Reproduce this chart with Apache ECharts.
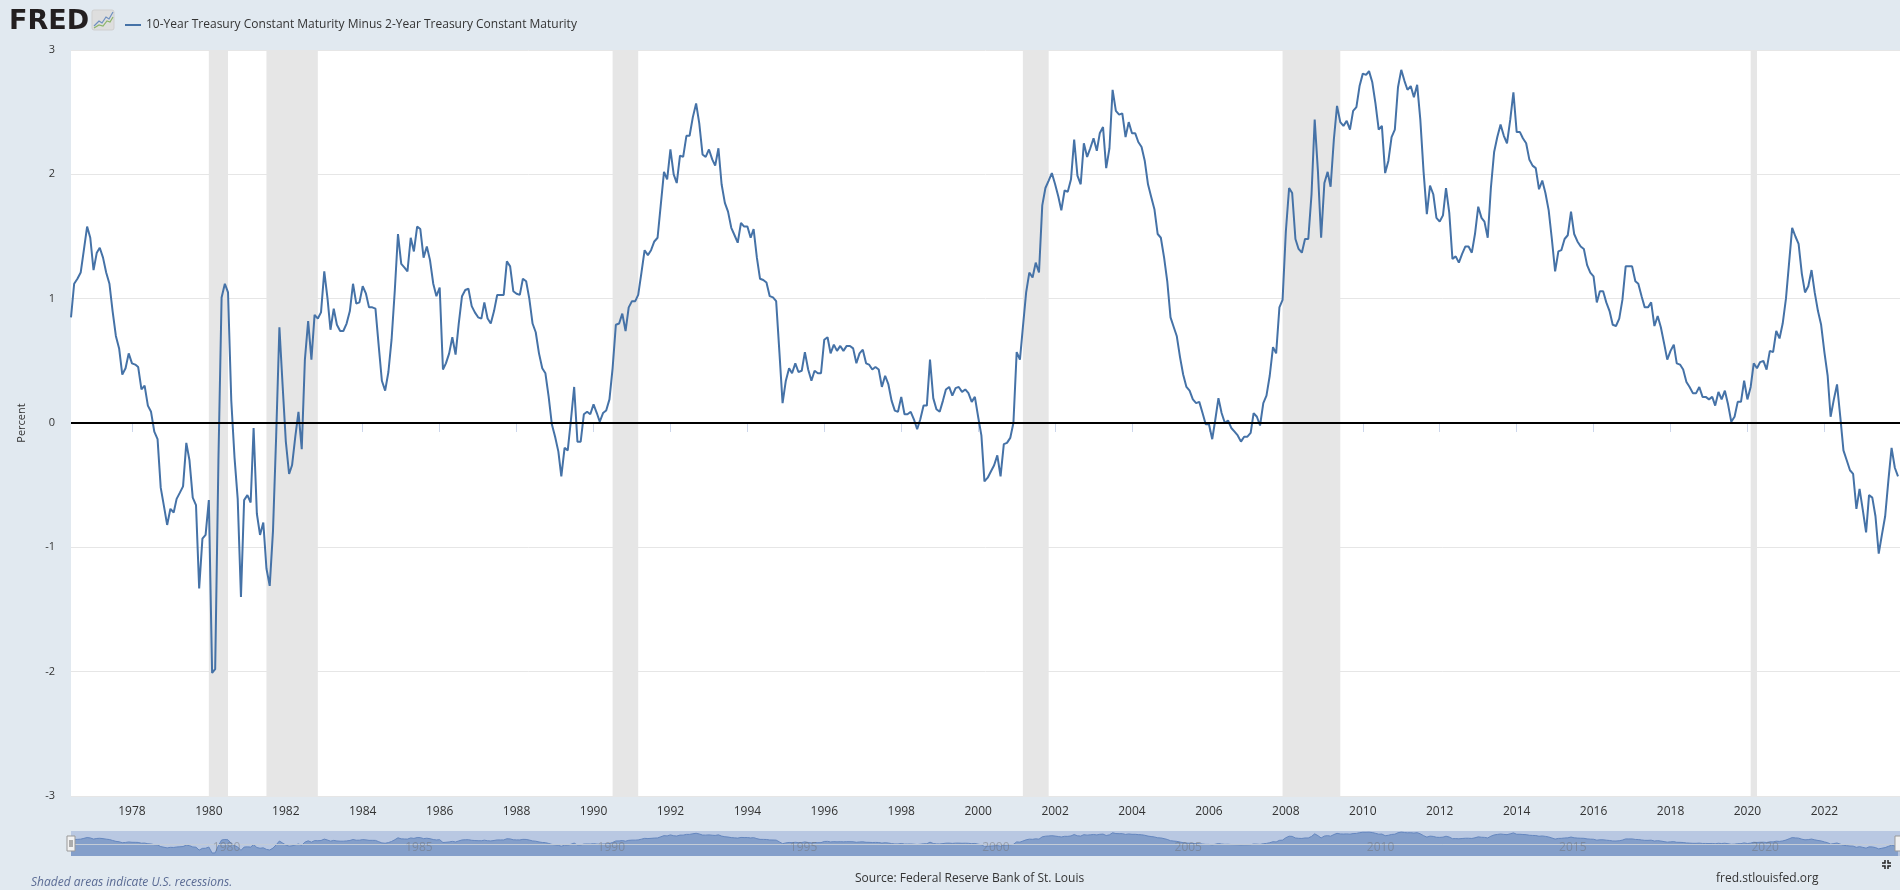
<!DOCTYPE html>
<html style="height: 100%" lang="en">
<head>
    <meta charset="UTF-8">
    <title>10-Year Treasury Constant Maturity Minus 2-Year Treasury Constant Maturity</title>
</head>
<body style="height: 100%; margin: 0; background: #e1e9f0">
<div id="main1" style="width: 1900px; height: 890px"></div>

<script src="https://cdn.jsdelivr.net/npm/echarts@6/dist/echarts.min.js"></script>

<script type="text/javascript">

    // monthly values, first point = June 1976
    var startYear = 1976, startMonth = 6;

    var spread1970s = [
        0.85, 1.12, 1.16, 1.21, 1.39, 1.58, 1.49,
        1.23, 1.37, 1.41, 1.33, 1.21, 1.12, 0.90, 0.70, 0.60, 0.39, 0.44, 0.56,
        0.48, 0.47, 0.45, 0.27, 0.30, 0.14, 0.09, -0.07, -0.13, -0.52, -0.67, -0.82,
        -0.69, -0.72, -0.61, -0.56, -0.51, -0.16, -0.30, -0.60, -0.66, -1.33, -0.93, -0.90
    ];
    var spread1980s = [
        -0.62, -2.01, -1.98, -0.30, 1.01, 1.12, 1.05, 0.18, -0.28, -0.61, -1.40, -0.62,
        -0.58, -0.64, -0.04, -0.73, -0.90, -0.80, -1.17, -1.31, -0.87, -0.11, 0.77, 0.31,
        -0.15, -0.41, -0.34, -0.11, 0.09, -0.21, 0.51, 0.82, 0.51, 0.87, 0.84, 0.89,
        1.22, 1.00, 0.75, 0.92, 0.79, 0.74, 0.74, 0.80, 0.90, 1.12, 0.96, 0.97,
        1.10, 1.04, 0.93, 0.93, 0.92, 0.62, 0.34, 0.26, 0.41, 0.67, 1.07, 1.52,
        1.28, 1.25, 1.22, 1.49, 1.38, 1.58, 1.56, 1.33, 1.42, 1.31, 1.12, 1.02,
        1.09, 0.43, 0.48, 0.56, 0.69, 0.55, 0.80, 1.02, 1.07, 1.08, 0.94, 0.89,
        0.85, 0.84, 0.97, 0.84, 0.80, 0.90, 1.03, 1.03, 1.03, 1.30, 1.26, 1.06,
        1.04, 1.03, 1.16, 1.14, 1.00, 0.80, 0.73, 0.56, 0.44, 0.40, 0.21, -0.01,
        -0.11, -0.23, -0.43, -0.20, -0.22, 0.03, 0.29, -0.15, -0.15, 0.07, 0.09, 0.07
    ];
    var spread1990s = [
        0.15, 0.08, 0.01, 0.08, 0.10, 0.19, 0.44, 0.79, 0.80, 0.88, 0.74, 0.93,
        0.98, 0.98, 1.03, 1.21, 1.39, 1.35, 1.39, 1.46, 1.49, 1.75, 2.02, 1.96,
        2.20, 2.00, 1.93, 2.15, 2.14, 2.31, 2.31, 2.46, 2.57, 2.41, 2.16, 2.14,
        2.20, 2.12, 2.07, 2.21, 1.92, 1.77, 1.70, 1.57, 1.51, 1.45, 1.61, 1.58,
        1.58, 1.49, 1.56, 1.33, 1.16, 1.15, 1.13, 1.02, 1.01, 0.98, 0.57, 0.16,
        0.34, 0.44, 0.40, 0.48, 0.41, 0.42, 0.57, 0.43, 0.34, 0.42, 0.40, 0.40,
        0.67, 0.69, 0.56, 0.63, 0.58, 0.62, 0.58, 0.62, 0.62, 0.60, 0.48, 0.56,
        0.59, 0.48, 0.47, 0.43, 0.45, 0.43, 0.29, 0.38, 0.31, 0.18, 0.10, 0.09,
        0.21, 0.07, 0.07, 0.09, 0.03, -0.05, 0.03, 0.14, 0.14, 0.51, 0.20, 0.11,
        0.09, 0.18, 0.27, 0.29, 0.22, 0.28, 0.29, 0.25, 0.27, 0.24, 0.17, 0.21
    ];
    var spread2000s = [
        0.05, -0.10, -0.47, -0.44, -0.39, -0.34, -0.26, -0.43, -0.17, -0.16, -0.12, 0.00,
        0.57, 0.51, 0.77, 1.05, 1.21, 1.17, 1.29, 1.21, 1.75, 1.89, 1.95, 2.01,
        1.92, 1.82, 1.71, 1.87, 1.86, 1.96, 2.28, 1.99, 1.92, 2.25, 2.14, 2.21,
        2.29, 2.19, 2.33, 2.38, 2.05, 2.21, 2.68, 2.51, 2.48, 2.49, 2.30, 2.42,
        2.33, 2.33, 2.26, 2.22, 2.11, 1.92, 1.82, 1.72, 1.52, 1.49, 1.33, 1.14,
        0.85, 0.77, 0.70, 0.53, 0.39, 0.29, 0.26, 0.19, 0.16, 0.17, 0.08, -0.01,
        -0.01, -0.13, 0.02, 0.20, 0.08, 0.00, 0.02, -0.04, -0.07, -0.10, -0.15, -0.11,
        -0.11, -0.08, 0.08, 0.05, -0.02, 0.16, 0.22, 0.38, 0.61, 0.56, 0.93, 0.99,
        1.54, 1.89, 1.85, 1.48, 1.40, 1.37, 1.48, 1.48, 1.84, 2.44, 2.02, 1.49,
        1.93, 2.02, 1.90, 2.28, 2.55, 2.42, 2.39, 2.43, 2.36, 2.51, 2.54, 2.71
    ];
    var spread2010s = [
        2.81, 2.80, 2.83, 2.74, 2.57, 2.36, 2.39, 2.01, 2.11, 2.30, 2.36, 2.70,
        2.84, 2.75, 2.68, 2.71, 2.62, 2.72, 2.44, 2.02, 1.68, 1.91, 1.84, 1.65,
        1.62, 1.67, 1.89, 1.69, 1.32, 1.34, 1.29, 1.36, 1.42, 1.42, 1.37, 1.52,
        1.74, 1.65, 1.62, 1.49, 1.89, 2.18, 2.30, 2.40, 2.31, 2.25, 2.44, 2.66,
        2.34, 2.34, 2.29, 2.25, 2.12, 2.07, 2.05, 1.88, 1.95, 1.85, 1.71, 1.48,
        1.22, 1.38, 1.39, 1.48, 1.51, 1.70, 1.52, 1.46, 1.42, 1.40, 1.27, 1.21,
        1.18, 0.97, 1.06, 1.06, 0.97, 0.90, 0.79, 0.78, 0.84, 0.99, 1.26, 1.26,
        1.26, 1.14, 1.12, 1.02, 0.93, 0.93, 0.97, 0.78, 0.86, 0.77, 0.64, 0.51,
        0.58, 0.63, 0.48, 0.47, 0.43, 0.33, 0.29, 0.24, 0.24, 0.29, 0.21, 0.21,
        0.19, 0.21, 0.14, 0.25, 0.19, 0.26, 0.15, 0.01, 0.05, 0.17, 0.17, 0.34
    ];
    var spread2020s = [
        0.19, 0.29, 0.48, 0.44, 0.49, 0.50, 0.43, 0.58, 0.57, 0.74, 0.68, 0.80,
        1.00, 1.30, 1.57, 1.50, 1.44, 1.20, 1.05, 1.10, 1.23, 1.05, 0.90, 0.79,
        0.57, 0.38, 0.05, 0.19, 0.31, 0.05, -0.22, -0.30, -0.38, -0.41, -0.69, -0.53,
        -0.70, -0.88, -0.58, -0.60, -0.75, -1.05, -0.90, -0.75, -0.46, -0.20, -0.36, -0.43
    ];

    // U.S. recessions (shaded)
    var recessions = [
        ['1980-01-01', '1980-07-01'],
        ['1981-07-01', '1982-11-01'],
        ['1990-07-01', '1991-03-01'],
        ['2001-03-01', '2001-11-01'],
        ['2007-12-01', '2009-06-01'],
        ['2020-02-01', '2020-04-01']
    ];

    var axisYears = [1978, 1980, 1982, 1984, 1986, 1988, 1990, 1992, 1994, 1996, 1998, 2000,
        2002, 2004, 2006, 2008, 2010, 2012, 2014, 2016, 2018, 2020, 2022];
    var navYears = [1980, 1985, 1990, 1995, 2000, 2005, 2010, 2015, 2020];

    var spread = spread1970s.concat(spread1980s, spread1990s, spread2000s, spread2010s, spread2020s);
    var points = spread.map(function (v, i) {
        return [Date.UTC(startYear, startMonth - 1 + i, 1), v];
    });
    var xMin = Date.UTC(1976, 5, 1);
    var xMax = Date.UTC(2023, 11, 20);
    function yearStamp(y) { return Date.UTC(y, 0, 1); }
    function yearLabel(v) { return String(new Date(v).getUTCFullYear()); }

    var myChart1 = echarts.init(document.getElementById('main1'));
    var option = {
        animation: false,
        backgroundColor: '#e1e9f0',
        textStyle: {fontFamily: 'Open Sans'},
        legend: {
            left: 120,
            top: 14,
            icon: 'rect',
            itemWidth: 16,
            itemHeight: 2,
            itemGap: 6,
            textStyle: {color: '#333', fontSize: 12, fontFamily: 'Open Sans'},
            data: ['10-Year Treasury Constant Maturity Minus 2-Year Treasury Constant Maturity']
        },
        grid: [
            {left: 71, right: 0, top: 50, height: 746, show: true, backgroundColor: '#fff', borderWidth: 0},
            {left: 71, right: 0, top: 831, height: 25, show: true, backgroundColor: '#b9c8e2', borderWidth: 0}
        ],
        xAxis: [
            {
                type: 'value',
                gridIndex: 0,
                min: xMin,
                max: xMax,
                axisLine: {lineStyle: {color: '#ccd6eb', width: 1}},
                axisTick: {show: true, length: 9, lineStyle: {color: '#ccd6eb'},
                    customValues: axisYears.map(yearStamp)},
                axisLabel: {customValues: axisYears.map(yearStamp), formatter: yearLabel,
                    color: '#333', fontSize: 12, margin: 10},
                splitLine: {show: false}
            },
            {
                type: 'value',
                gridIndex: 1,
                min: xMin,
                max: xMax,
                z: 8,
                axisLine: {show: true, lineStyle: {color: '#c4ccd6'}},
                axisTick: {show: false},
                axisLabel: {inside: true, customValues: navYears.map(yearStamp), formatter: yearLabel,
                    color: 'rgba(110,110,110,0.45)', fontSize: 12, align: 'left', margin: 2, padding: [0, 0, 0, 4]},
                splitLine: {show: false}
            }
        ],
        yAxis: [
            {
                type: 'value',
                gridIndex: 0,
                min: -3,
                max: 3,
                interval: 1,
                name: 'Percent',
                nameLocation: 'middle',
                nameRotate: 90,
                nameGap: 44,
                nameTextStyle: {color: '#333', fontSize: 11},
                axisLine: {show: false},
                axisTick: {show: false},
                axisLabel: {color: '#333', fontSize: 11, margin: 16},
                splitLine: {lineStyle: {color: '#e6e6e6'}}
            },
            {
                type: 'value',
                gridIndex: 1,
                min: -2.7,
                max: 3.1,
                show: false
            }
        ],
        series: [
            {
                name: '10-Year Treasury Constant Maturity Minus 2-Year Treasury Constant Maturity',
                type: 'line',
                xAxisIndex: 0,
                yAxisIndex: 0,
                data: points,
                symbol: 'none',
                color: '#4572a7',
                lineStyle: {width: 2, color: '#4572a7'},
                z: 3,
                markArea: {
                    silent: true,
                    itemStyle: {color: '#e6e6e6'},
                    data: recessions.map(function (r) {
                        return [{xAxis: Date.parse(r[0])}, {xAxis: Date.parse(r[1])}];
                    })
                },
                markLine: {
                    silent: true,
                    symbol: 'none',
                    label: {show: false},
                    lineStyle: {color: '#000', width: 2, type: 'solid'},
                    data: [{yAxis: 0}]
                }
            },
            {
                name: 'navigator',
                type: 'line',
                xAxisIndex: 1,
                yAxisIndex: 1,
                data: points,
                symbol: 'none',
                lineStyle: {width: 1, color: '#6587bf'},
                areaStyle: {color: '#849fca', opacity: 1, origin: 'start'},
                z: 2
            }
        ],
        graphic: [
            // FRED logo
            {type: 'text', left: 9, top: 8, style: {text: 'FRED', fill: '#231f20',
                font: '900 27px "DejaVu Sans"'}},
            {type: 'rect', shape: {x: 92, y: 10, width: 22, height: 20, r: 2},
                style: {fill: '#dedede', stroke: '#cfcfcf'}},
            {type: 'polyline', shape: {points: [[94, 26], [99, 21], [102, 23], [106, 17], [109, 19], [113, 12]]},
                style: {stroke: '#6d8fc0', lineWidth: 1.2, fill: null}},
            {type: 'polyline', shape: {points: [[94, 28], [99, 25], [103, 26], [107, 21], [110, 22], [113, 17]]},
                style: {stroke: '#8cb56a', lineWidth: 1.2, fill: null}},
            // navigator handles
            {type: 'rect', shape: {x: 67, y: 836, width: 8, height: 15}, z: 20,
                style: {fill: '#f2f2f2', stroke: '#999', lineWidth: 1}},
            {type: 'line', shape: {x1: 70, y1: 840, x2: 70, y2: 847}, z: 21, style: {stroke: '#666'}},
            {type: 'line', shape: {x1: 72, y1: 840, x2: 72, y2: 847}, z: 21, style: {stroke: '#666'}},
            {type: 'rect', shape: {x: 1895, y: 836, width: 8, height: 15}, z: 20,
                style: {fill: '#f2f2f2', stroke: '#999', lineWidth: 1}},
            // full screen icon
            {type: 'polyline', shape: {points: [[1882, 863], [1885, 863], [1885, 860]]}, style: {stroke: '#222', lineWidth: 1.5, fill: null}},
            {type: 'polyline', shape: {points: [[1888, 860], [1888, 863], [1891, 863]]}, style: {stroke: '#222', lineWidth: 1.5, fill: null}},
            {type: 'polyline', shape: {points: [[1882, 866], [1885, 866], [1885, 869]]}, style: {stroke: '#222', lineWidth: 1.5, fill: null}},
            {type: 'polyline', shape: {points: [[1888, 869], [1888, 866], [1891, 866]]}, style: {stroke: '#222', lineWidth: 1.5, fill: null}},
            // footer
            {type: 'text', left: 31, top: 877, style: {text: 'Shaded areas indicate U.S. recessions.',
                fill: '#5a6b94', font: 'italic 12px "Open Sans"'}},
            {type: 'text', left: 855, top: 873, style: {text: 'Source: Federal Reserve Bank of St. Louis',
                fill: '#333', font: '12px "Open Sans"'}},
            {type: 'text', left: 1716, top: 873, style: {text: 'fred.stlouisfed.org',
                fill: '#333', font: '12px "Open Sans"'}}
        ]
    };

    myChart1.setOption(option);

</script>
</body>

</html>
